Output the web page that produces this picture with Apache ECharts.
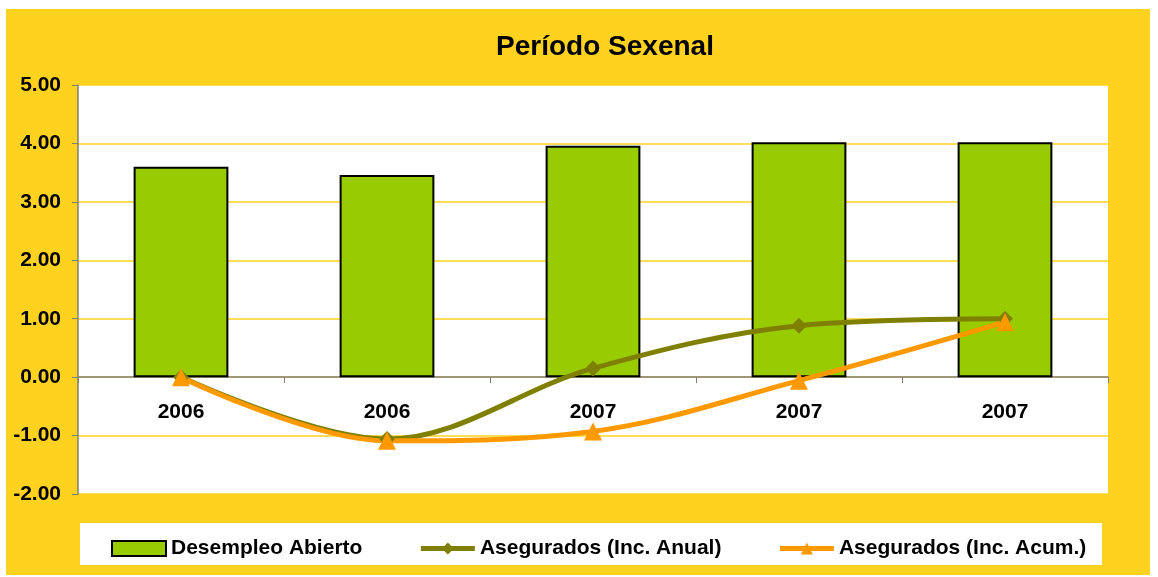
<!DOCTYPE html>
<html lang="es">
<head>
<meta charset="utf-8">
<title>Período Sexenal</title>
<script src="https://cdn.jsdelivr.net/npm/echarts@6/dist/echarts.min.js"></script>
<style>
  html, body { margin: 0; padding: 0; background: #fff; }
</style>
</head>
<body>
<div id="main" style="width: 1158px;height:577px;"></div>
<script type="text/javascript">
// datos
var categorias = ['2006', '2006', '2007', '2007', '2007'];
var desempleo = [3.60, 3.46, 3.96, 4.02, 4.02];
var incAnual = [0.00, -1.06, 0.15, 0.88, 1.00];
var incAcum = [0.00, -1.09, -0.93, -0.06, 0.94];
var ejeY = { min: -2, max: 5, interval: 1 };

var amarillo = '#FFD21F';
var fuente = 'Liberation Sans, Arial, sans-serif';

var myChart = echarts.init(document.getElementById('main'));
var option = {
    backgroundColor: '#fff',
    animation: false,
    graphic: [
        { type: 'rect', z: -10, shape: { x: 6, y: 9, width: 1144, height: 566 }, style: { fill: amarillo } },
        { type: 'rect', z: -9, shape: { x: 80, y: 523, width: 1022, height: 42 }, style: { fill: '#fff' } }
    ],
    title: {
        text: 'Período Sexenal',
        left: 600,
        textAlign: 'center',
        top: 28,
        textStyle: { fontFamily: fuente, fontSize: 28, fontWeight: 'bold', color: '#000' }
    },
    legend: {
        left: 106,
        top: 533,
        itemGap: 56,
        itemWidth: 54,
        itemHeight: 15,
        textStyle: { fontFamily: fuente, fontSize: 21, fontWeight: 'bold', color: '#000' },
        data: [
            { name: 'Desempleo Abierto', icon: 'rect' },
            { name: 'Asegurados (Inc. Anual)', lineStyle: { width: 5 } },
            { name: 'Asegurados (Inc. Acum.)', lineStyle: { width: 5 } }
        ]
    },
    grid: {
        left: 78,
        right: 50,
        top: 85,
        bottom: 83,
        show: true,
        backgroundColor: '#fff',
        borderWidth: 0
    },
    xAxis: {
        type: 'category',
        data: categorias,
        axisLine: { onZero: true, lineStyle: { color: '#7f7f7f', width: 1.5 } },
        axisTick: { show: true, length: 6, lineStyle: { color: '#7f7f7f' } },
        // etiquetas bajo la linea del cero
        axisLabel: { margin: -92, fontFamily: fuente, fontSize: 21, fontWeight: 'bold', color: '#000' },
        splitLine: { show: false }
    },
    yAxis: {
        type: 'value',
        min: ejeY.min,
        max: ejeY.max,
        interval: ejeY.interval,
        axisLine: { show: true, lineStyle: { color: '#7f7f7f', width: 1.5 } },
        axisTick: { show: true, length: 6, lineStyle: { color: '#7f7f7f' } },
        axisLabel: {
            margin: 17,
            fontFamily: fuente, fontSize: 21, fontWeight: 'bold', color: '#000',
            formatter: function (v) { return v.toFixed(2); }
        },
        splitLine: { show: true, lineStyle: { color: amarillo, width: 1.5 } }
    },
    series: [
        {
            name: 'Desempleo Abierto',
            type: 'bar',
            barWidth: '46%',
            data: desempleo,
            itemStyle: { color: '#99CC00', borderColor: '#000', borderWidth: 2 }
        },
        {
            name: 'Asegurados (Inc. Anual)',
            type: 'line',
            smooth: 0.35,
            data: incAnual,
            symbol: 'diamond',
            symbolSize: 16,
            lineStyle: { color: '#808000', width: 5 },
            itemStyle: { color: '#808000' }
        },
        {
            name: 'Asegurados (Inc. Acum.)',
            type: 'line',
            smooth: 0.35,
            data: incAcum,
            symbol: 'triangle',
            symbolSize: 18,
            lineStyle: { color: '#FF9900', width: 5 },
            itemStyle: { color: '#FF9900' }
        }
    ]
};
myChart.setOption(option);
</script>
</body>
</html>
